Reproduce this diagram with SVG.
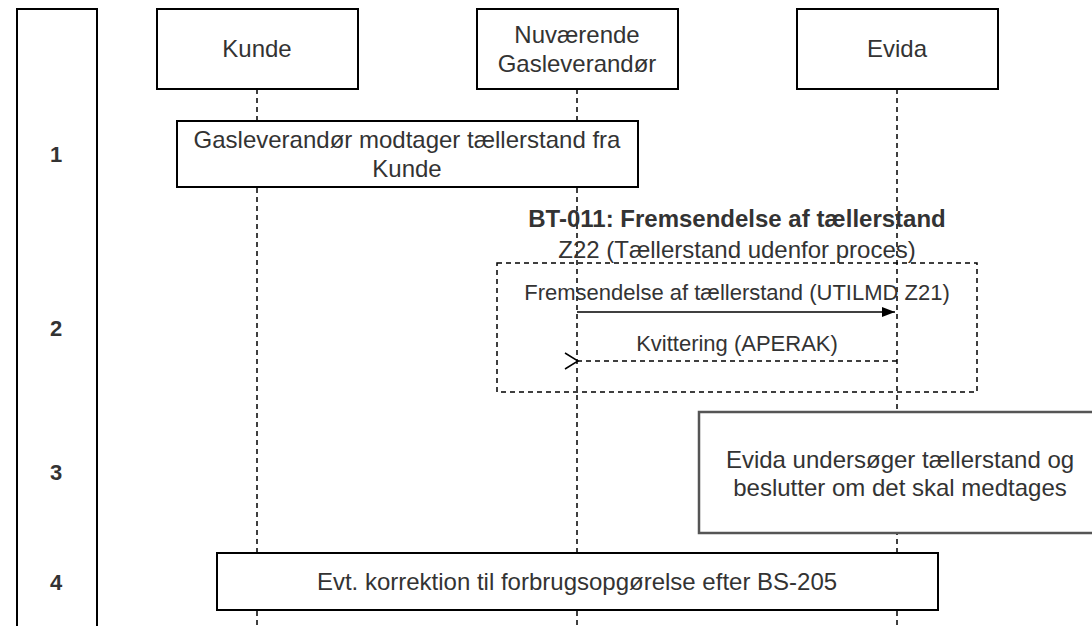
<svg xmlns="http://www.w3.org/2000/svg" width="1092" height="626" viewBox="0 0 1092 626">
  <defs>
    <style>
      .box { fill: #ffffff; stroke: #000000; stroke-width: 2; }
      .box3 { fill: #ffffff; stroke: #555555; stroke-width: 2.5; }
      .life { fill: none; stroke: #000000; stroke-width: 1.5; stroke-dasharray: 5 4; }
      .frame { fill: none; stroke: #000000; stroke-width: 1.5; stroke-dasharray: 5 4; }
      .t { font-family: "Liberation Sans", Arial, sans-serif; font-size: 24px; fill: #333333; text-anchor: middle; }
      .lbl { font-family: "Liberation Sans", Arial, sans-serif; font-size: 22px; fill: #333333; text-anchor: middle; }
      .num { font-family: "Liberation Sans", Arial, sans-serif; font-size: 22px; font-weight: bold; fill: #333333; text-anchor: middle; }
      .b { font-weight: bold; }
    </style>
    <marker id="fillArrow" markerWidth="14" markerHeight="12" refX="13" refY="6" orient="auto" markerUnits="userSpaceOnUse">
      <path d="M0,1 L13,6 L0,11 Z" fill="#000000"/>
    </marker>
    <marker id="openArrow" markerWidth="16" markerHeight="18" refX="1" refY="9" orient="auto" markerUnits="userSpaceOnUse">
      <path d="M14,1 L1,9 L14,17" fill="none" stroke="#000000" stroke-width="1.5"/>
    </marker>
  </defs>

  <g id="phase-column">
    <rect class="box" x="17" y="9" width="80" height="640"/>
    <text class="num" x="56" y="162">1</text>
    <text class="num" x="56" y="336">2</text>
    <text class="num" x="56" y="480">3</text>
    <text class="num" x="56" y="590">4</text>
  </g>

  <g id="lifelines">
    <line class="life" x1="257" y1="89" x2="257" y2="626"/>
    <line class="life" x1="577" y1="89" x2="577" y2="626"/>
    <line class="life" x1="897" y1="89" x2="897" y2="626"/>
  </g>

  <g id="kunde">
    <rect class="box" x="157" y="9" width="201" height="80"/>
    <text class="t" x="257" y="57">Kunde</text>
  </g>
  <g id="gasleverandoer">
    <rect class="box" x="477" y="9" width="201" height="80"/>
    <text class="t" x="577" y="43">Nuværende</text>
    <text class="t" x="577" y="72">Gasleverandør</text>
  </g>
  <g id="evida">
    <rect class="box" x="797" y="9" width="201" height="80"/>
    <text class="t" x="897" y="57">Evida</text>
  </g>

  <g id="step1">
    <rect class="box" x="177" y="121" width="461" height="66"/>
    <text class="t" x="407" y="148">Gasleverandør modtager tællerstand fra</text>
    <text class="t" x="407" y="177">Kunde</text>
  </g>

  <g id="step2-frame">
    <rect class="frame" x="497" y="263" width="480" height="129"/>
    <text class="t b" x="737" y="227">BT-011: Fremsendelse af tællerstand</text>
    <text class="t" x="737" y="258">Z22 (Tællerstand udenfor proces)</text>
  </g>

  <g id="connectors">
    <line x1="577" y1="312" x2="895" y2="312" stroke="#000000" stroke-width="1.5" marker-end="url(#fillArrow)"/>
    <text class="lbl" x="737" y="300">Fremsendelse af tællerstand (UTILMD Z21)</text>
    <line x1="897" y1="361" x2="578" y2="361" stroke="#000000" stroke-width="1.5" stroke-dasharray="5 4" marker-end="url(#openArrow)"/>
    <text class="lbl" x="737" y="351">Kvittering (APERAK)</text>
  </g>

  <g id="step3">
    <rect class="box3" x="699" y="412" width="402" height="121"/>
    <text class="t" x="900" y="468">Evida undersøger tællerstand og</text>
    <text class="t" x="900" y="496">beslutter om det skal medtages</text>
  </g>

  <g id="step4">
    <rect class="box" x="217" y="553" width="721" height="57"/>
    <text class="t" x="577" y="590">Evt. korrektion til forbrugsopgørelse efter BS-205</text>
  </g>
</svg>
